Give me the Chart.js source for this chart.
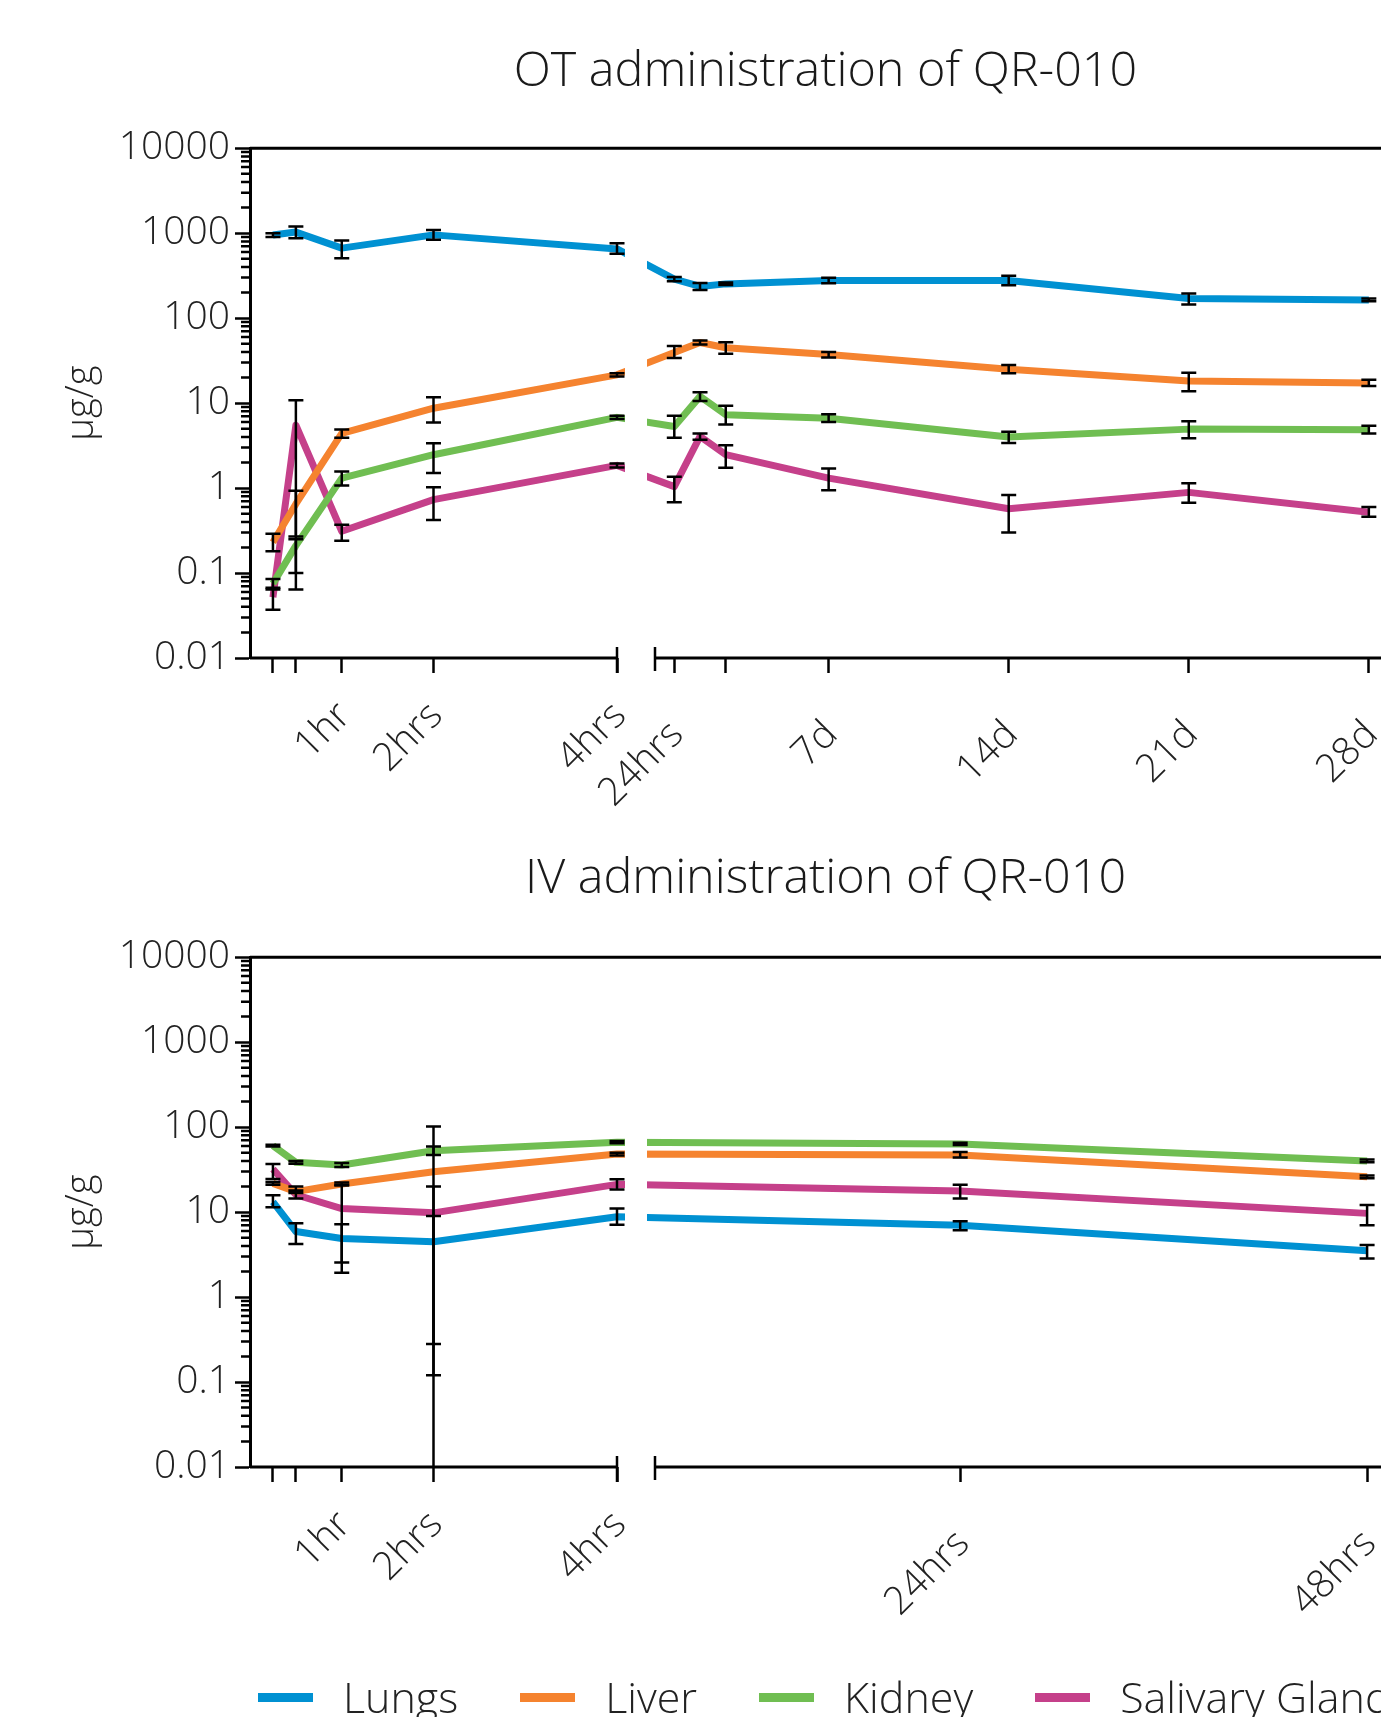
<!DOCTYPE html>
<html>
<head>
<meta charset="utf-8">
<title>QR-010 tissue levels</title>
<script src="https://cdn.jsdelivr.net/npm/chart.js@4.4.1/dist/chart.umd.min.js"></script>
<style>
  html, body { margin: 0; padding: 0; overflow: hidden; background: #fff; }
  body { width: 1381px; height: 1717px; position: relative; font-family: "Open Sans", sans-serif; }
  .panel { position: absolute; left: 0; }
  .panel canvas { display: block; }
  #legend { position: absolute; left: 258px; top: 1673px; display: flex; align-items: center; white-space: nowrap;
            font-size: 43px; font-weight: 300; line-height: 48px; color: #222; }
  #legend .item { display: flex; align-items: center; margin-right: 62px; }
  #legend .swatch { width: 55px; height: 9px; margin-right: 30px; }
</style>
</head>
<body>
<div class="panel" style="top:0"><canvas id="ot-chart" width="1481" height="818"></canvas></div>
<div class="panel" style="top:818px"><canvas id="iv-chart" width="1481" height="899"></canvas></div>
<div id="legend"></div>
<script>
const seriesNames = ["Lungs", "Liver", "Kidney", "Salivary Gland"];
const seriesColors = ["#0091d2", "#f5832f", "#70be52", "#c5408a"];

const yTickValues = [0.01, 0.1, 1, 10, 100, 1000, 10000];
const yTickLabels = ["0.01", "0.1", "1", "10", "100", "1000", "10000"];
const yMinorDecades = [0.01, 0.1, 1, 10, 100, 1000];

// OT administration, times in hours (0.25h .. 28d)
const otHours = [0.25, 0.5, 1, 2, 4, 24, 48, 72, 168, 336, 504, 672];
const otTickHours = [0.25, 0.5, 1, 2, 4, 24, 72, 168, 336, 504, 672];
const otTickLabels = ["", "", "1hr", "2hrs", "4hrs", "24hrs", "", "7d", "14d", "21d", "28d"];

const otLungs = [950, 1030, 667, 955, 653, 288, 236, 253, 277, 277, 170, 164];
const otLungsLow = [900, 873, 508, 834, 571, 272, 215, 245, 257, 243, 145, 158];
const otLungsHigh = [1000, 1195, 818, 1093, 763, 305, 259, 262, 298, 315, 195, 170];
const otLiver = [0.23, 0.65, 4.4, 8.7, 21.5, 39.4, 51.6, 44.8, 37.3, 25.1, 18.2, 17.2];
const otLiverLow = [0.18, 0.27, 3.9, 5.9, 20.5, 34, 49, 38, 34.5, 22.4, 13.8, 15.9];
const otLiverHigh = [0.29, 0.93, 4.9, 11.7, 22.5, 47, 54.5, 52, 40, 28, 22.7, 18.8];
const otKidney = [0.075, 0.21, 1.31, 2.47, 6.8, 5.3, 12.0, 7.3, 6.65, 4.0, 4.94, 4.85];
const otKidneyLow = [0.064, 0.1, 1.07, 1.5, 6.5, 3.9, 10.6, 5.6, 6.0, 3.4, 3.85, 4.4];
const otKidneyHigh = [0.085, 0.25, 1.57, 3.37, 7.1, 7.1, 13.4, 9.3, 7.4, 4.6, 6.1, 5.4];
const otSalivary = [0.052, 5.5, 0.31, 0.73, 1.85, 1.04, 4.05, 2.47, 1.31, 0.57, 0.89, 0.52];
const otSalivaryLow = [0.037, 0.064, 0.24, 0.42, 1.75, 0.68, 3.7, 1.73, 0.94, 0.3, 0.67, 0.46];
const otSalivaryHigh = [0.067, 10.8, 0.37, 1.02, 1.95, 1.36, 4.4, 3.2, 1.7, 0.83, 1.14, 0.6];

// IV administration, times in hours (0.25h .. 48h)
const ivHours = [0.25, 0.5, 1, 2, 4, 24, 48];
const ivTickHours = [0.25, 0.5, 1, 2, 4, 24, 48];
const ivTickLabels = ["", "", "1hr", "2hrs", "4hrs", "24hrs", "48hrs"];

const ivLungs = [13.2, 5.9, 4.9, 4.47, 8.8, 7.0, 3.5];
const ivLungsLow = [11.4, 4.2, 2.55, 0.12, 7.1, 6.1, 2.85];
const ivLungsHigh = [15.8, 7.4, 7.2, 8.97, 11, 7.8, 4.1];
const ivLiver = [21.8, 17.4, 21.4, 29.9, 48.3, 47, 26];
const ivLiverLow = [21, 16.8, 20.5, -42, 46.5, 44, 25];   // mean - SD below zero
const ivLiverHigh = [22.6, 18, 22.3, 102, 50, 51, 27];
const ivKidney = [60.5, 38.5, 35.8, 52.8, 66.4, 63.4, 39.9];
const ivKidneyLow = [59, 37, 34, 47, 64.5, 61.5, 38.5];
const ivKidneyHigh = [62, 40, 37.8, 59, 68.5, 65.5, 41.5];
const ivSalivary = [32, 16, 11, 9.8, 21.2, 17.7, 9.66];
const ivSalivaryLow = [24.5, 14.5, 1.93, 0.28, 18.5, 14.5, 7.0];
const ivSalivaryHigh = [36.8, 20, 21, 20, 24.4, 21, 12.1];

// linear axis with a break between 4h and 6h
class BrokenScale extends Chart.LinearScale {
  getPixelForValue(value) {
    if (value === null || isNaN(value)) return NaN;
    const b = this.options.brk;
    const rightFrac = 1 - b.leftFrac - b.gapFrac;
    let f;
    if (value <= b.leftEnd) f = value / b.leftEnd * b.leftFrac;
    else if (value >= b.rightStart) f = b.leftFrac + b.gapFrac + (value - b.rightStart) / (b.rightEnd - b.rightStart) * rightFrac;
    else f = b.leftFrac + (value - b.leftEnd) / (b.rightStart - b.leftEnd) * b.gapFrac;
    return this.getPixelForDecimal(f);
  }
  // labels may hang below the (short) axis box
  _computeLabelArea() {
    return undefined;
  }
}
BrokenScale.id = "broken";
BrokenScale.defaults = Chart.LinearScale.defaults;
Chart.register(BrokenScale);

Chart.defaults.font.family = "'Open Sans', sans-serif";
Chart.defaults.font.weight = 300;
Chart.defaults.color = "#222";

function drawErrorBars(chart) {
  const { ctx, chartArea: a, scales: { y } } = chart;
  ctx.save();
  ctx.beginPath();
  ctx.rect(a.left, a.top - 2, a.width, a.height + 2);
  ctx.clip();
  ctx.strokeStyle = "#000";
  ctx.lineWidth = 2.5;
  chart.data.datasets.forEach((ds, di) => {
    chart.getDatasetMeta(di).data.forEach((pt, i) => {
      const lo = ds.errLow[i], hi = ds.errHigh[i];
      const yHi = y.getPixelForValue(hi);
      const yLo = lo > 0 ? y.getPixelForValue(lo) : a.bottom;
      ctx.beginPath();
      ctx.moveTo(pt.x, yHi);
      ctx.lineTo(pt.x, yLo);
      ctx.moveTo(pt.x - 7.5, yHi);
      ctx.lineTo(pt.x + 7.5, yHi);
      if (lo > 0) {
        ctx.moveTo(pt.x - 7.5, yLo);
        ctx.lineTo(pt.x + 7.5, yLo);
      }
      ctx.stroke();
    });
  });
  ctx.restore();
}

function drawFrame(chart) {
  const { ctx, chartArea: a, scales: { x, y } } = chart;
  const brk = x.options.brk;
  const segEnd = x.getPixelForValue(brk.leftEnd);
  const segStart = x.getPixelForValue(brk.rightStart);
  ctx.save();
  ctx.strokeStyle = "#000";
  ctx.lineWidth = 3;
  ctx.beginPath();
  ctx.moveTo(a.left, a.top);
  ctx.lineTo(a.right, a.top);
  ctx.moveTo(a.left, a.bottom);
  ctx.lineTo(segEnd, a.bottom);
  ctx.moveTo(segStart, a.bottom);
  ctx.lineTo(a.right, a.bottom);
  ctx.stroke();
  ctx.lineWidth = 2.5;
  ctx.beginPath();
  ctx.moveTo(segEnd, a.bottom - 11);
  ctx.lineTo(segEnd, a.bottom + 15);
  ctx.moveTo(segStart, a.bottom - 11);
  ctx.lineTo(segStart, a.bottom + 13);
  yMinorDecades.forEach(d => {
    for (let m = 2; m <= 9; m++) {
      const py = y.getPixelForValue(m * d);
      ctx.moveTo(a.left - 9, py);
      ctx.lineTo(a.left, py);
    }
  });
  ctx.stroke();
  ctx.restore();
}

// cut the lines where they cross the axis break, then add error bars and frame
const brokenAxisPlugin = {
  id: "brokenAxis",
  beforeDatasetsDraw(chart) {
    const { ctx, chartArea: a, scales: { x } } = chart;
    const brk = x.options.brk;
    const gapL = x.getPixelForValue(brk.leftEnd) + 8;
    const gapR = x.getPixelForValue(brk.rightStart) - 8;
    ctx.save();
    ctx.beginPath();
    ctx.rect(a.left - 20, a.top - 20, gapL - a.left + 20, a.height + 40);
    ctx.rect(gapR, a.top - 20, a.right + 20 - gapR, a.height + 40);
    ctx.clip();
  },
  afterDatasetsDraw(chart) {
    chart.ctx.restore();
    drawErrorBars(chart);
    drawFrame(chart);
  }
};

function makeDatasets(hours, values, lows, highs) {
  return seriesNames.map((name, k) => ({
    label: name,
    xAxisID: "x",
    data: hours.map((h, i) => ({ x: h, y: values[k][i] })),
    errLow: lows[k],
    errHigh: highs[k],
    borderColor: seriesColors[k],
    backgroundColor: seriesColors[k],
    borderWidth: 7,
    borderJoinStyle: "round",
    pointRadius: 0,
    tension: 0
  }));
}

function makeOptions(title, titlePad, brk, tickHours, tickLabels, farHeight) {
  const tickFont = { size: 39, weight: 300 };
  const setTicks = s => { s.ticks = tickHours.map(v => ({ value: v })); };
  return {
    responsive: false,
    animation: false,
    layout: { padding: { left: 0, right: 80, top: 0, bottom: 0 } },
    plugins: {
      legend: { display: false },
      tooltip: { enabled: false },
      title: { display: true, text: title, fullSize: false, color: "#1a1a1a",
               font: { size: 48.5, weight: 300 }, padding: titlePad }
    },
    scales: {
      // near segment labels (hours) sit closer to the axis than the far ones
      x: {
        type: "broken", position: "bottom", weight: 0, brk, min: 0, max: brk.rightEnd,
        afterBuildTicks: setTicks,
        afterFit: s => { s.height = 34; },
        border: { display: false },
        grid: { drawOnChartArea: false, tickLength: 15, tickWidth: 2.5, tickColor: "#000" },
        ticks: { autoSkip: false, minRotation: 45, maxRotation: 45, padding: 20, labelOffset: 3,
                 color: "#222", font: tickFont,
                 callback: (v, i) => tickHours[i] <= brk.leftEnd ? tickLabels[i] : "" }
      },
      x2: {
        type: "broken", position: "bottom", weight: 1, brk, min: 0, max: brk.rightEnd,
        afterBuildTicks: setTicks,
        afterFit: s => { s.height = farHeight; },
        border: { display: false },
        grid: { display: false, drawTicks: false },
        ticks: { autoSkip: false, minRotation: 45, maxRotation: 45, padding: 20, labelOffset: 3,
                 color: "#222", font: tickFont,
                 callback: (v, i) => tickHours[i] >= brk.rightStart ? tickLabels[i] : "" }
      },
      y: {
        type: "logarithmic", position: "left", min: 0.01, max: 10000,
        afterBuildTicks: s => { s.ticks = yTickValues.map(v => ({ value: v })); },
        afterFit: s => { s.width = 250; },
        border: { display: true, color: "#000", width: 3 },
        grid: { drawOnChartArea: false, tickLength: 15, tickWidth: 2.5, tickColor: "#000" },
        ticks: { autoSkip: false, padding: 5, color: "#222", font: tickFont,
                 callback: (v, i) => yTickLabels[i] },
        title: { display: true, text: "μg/g", color: "#222", font: { size: 38, weight: 300 },
                 padding: { top: 59, bottom: 0 } }
      }
    }
  };
}

const breakShape = { leftEnd: 4, rightStart: 6, leftFrac: 367 / 1151, gapFrac: 38 / 1151 };

new Chart(document.getElementById("ot-chart"), {
  type: "line",
  data: {
    datasets: makeDatasets(otHours,
      [otLungs, otLiver, otKidney, otSalivary],
      [otLungsLow, otLiverLow, otKidneyLow, otSalivaryLow],
      [otLungsHigh, otLiverHigh, otKidneyHigh, otSalivaryHigh])
  },
  options: makeOptions("OT administration of QR-010", { top: 43, bottom: 47 },
    { ...breakShape, rightEnd: 702 }, otTickHours, otTickLabels, 126),
  plugins: [brokenAxisPlugin]
});

new Chart(document.getElementById("iv-chart"), {
  type: "line",
  data: {
    datasets: makeDatasets(ivHours,
      [ivLungs, ivLiver, ivKidney, ivSalivary],
      [ivLungsLow, ivLiverLow, ivKidneyLow, ivSalivaryLow],
      [ivLungsHigh, ivLiverHigh, ivKidneyHigh, ivSalivaryHigh])
  },
  options: makeOptions("IV administration of QR-010", { top: 32, bottom: 49 },
    { ...breakShape, rightEnd: 50 }, ivTickHours, ivTickLabels, 216),
  plugins: [brokenAxisPlugin]
});

const legendEl = document.getElementById("legend");
seriesNames.forEach((name, k) => {
  const item = document.createElement("div");
  item.className = "item";
  item.innerHTML = `<span class="swatch" style="background:${seriesColors[k]}"></span><span>${name}</span>`;
  legendEl.appendChild(item);
});
</script>
</body>
</html>
